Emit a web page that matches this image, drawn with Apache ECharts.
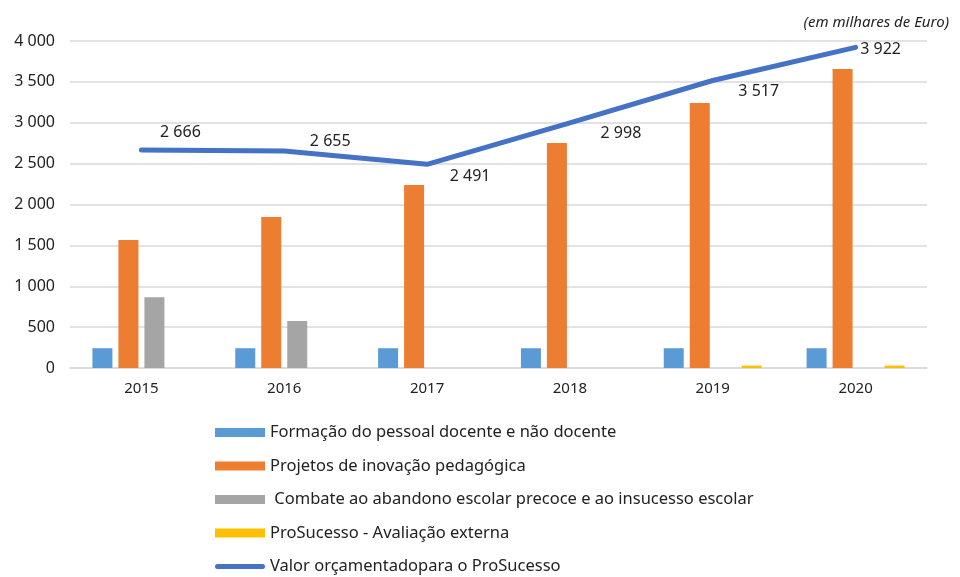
<!DOCTYPE html>
<html><head><meta charset="utf-8">
<script src="https://cdn.jsdelivr.net/npm/echarts@6/dist/echarts.min.js"></script>
<style>html,body{margin:0;padding:0;background:#fff}#c{width:960px;height:577px}</style>
</head><body><div id="c"></div>
<script>
const categories = ['2015','2016','2017','2018','2019','2020'];
const formacao = [242, 242, 242, 242, 242, 242];
const projetos = [1566, 1847, 2238, 2752, 3242, 3657];
const combate = [866, 575, 0, 0, 0, 0];
const avaliacao = [0, 0, 0, 0, 30, 30];
const valor = [2666, 2655, 2491, 2998, 3517, 3922];
const yTicks = [0, 500, 1000, 1500, 2000, 2500, 3000, 3500, 4000];
const labelOffsets = [[39,-5],[46,3],[43,25],[51,24],[46,24],[25,15]];

const font = 'Noto Sans';
const fmt = v => String(v).replace(/\B(?=(\d{3})+(?!\d))/g, ' ');

const chart = echarts.init(document.getElementById('c'));
const barBase = {type:'bar', barWidth:20, barGap:'30%'};
chart.setOption({
  animation:false,
  textStyle:{fontFamily:font},
  grid:{left:70, right:33, top:41, bottom:209},
  title:{text:'(em milhares de Euro)', right:6, top:10,
    textStyle:{fontFamily:font, fontSize:15, fontStyle:'italic', fontWeight:'normal', color:'#222'}},
  legend:{orient:'vertical', left:215, top:424, height:200, padding:0, itemWidth:50, itemHeight:9, itemGap:16.5,
    textStyle:{fontFamily:font, fontSize:16.5, color:'#222', lineHeight:17},
    data:[
      {name:'Formação do pessoal docente e não docente', icon:'rect'},
      {name:'Projetos de inovação pedagógica', icon:'rect'},
      {name:' Combate ao abandono escolar precoce e ao insucesso escolar', icon:'rect'},
      {name:'ProSucesso - Avaliação externa', icon:'rect'},
      {name:'Valor orçamentadopara o ProSucesso', icon:'path://M0,0 M2.5,2 L47.5,2 A2.5,2.5 0 0 1 47.5,7 L2.5,7 A2.5,2.5 0 0 1 2.5,2 Z M50,9'}
    ]},
  xAxis:{type:'category', data:categories,
    axisLine:{lineStyle:{color:'#d9d9d9', width:1.5}}, axisTick:{show:false},
    axisLabel:{color:'#222', fontSize:15, margin:13, fontFamily:font}},
  yAxis:{type:'value', min:0, max:4000, interval:500,
    axisLine:{show:false}, axisTick:{show:false},
    splitLine:{lineStyle:{color:'#d9d9d9', width:1.5}},
    axisLabel:{color:'#222', fontSize:16, margin:15, fontFamily:font,
      formatter:v => yTicks.includes(v) ? fmt(v) : ''}},
  series:[
    Object.assign({name:'Formação do pessoal docente e não docente', data:formacao, itemStyle:{color:'#5b9bd5'}}, barBase),
    Object.assign({name:'Projetos de inovação pedagógica', data:projetos, itemStyle:{color:'#ed7d31'}}, barBase),
    Object.assign({name:' Combate ao abandono escolar precoce e ao insucesso escolar', data:combate, itemStyle:{color:'#a5a5a5'}}, barBase),
    Object.assign({name:'ProSucesso - Avaliação externa', data:avaliacao, itemStyle:{color:'#ffc000'}}, barBase),
    {name:'Valor orçamentadopara o ProSucesso', type:'line', symbol:'circle', symbolSize:0, showSymbol:true,
      lineStyle:{color:'#4472c4', width:5, cap:'round', join:'round'},
      itemStyle:{color:'#4472c4'},
      data: valor.map((v,i)=>({value:v, label:{show:true, offset:labelOffsets[i]}})),
      label:{show:true, position:'top', distance:5, color:'#222', fontSize:16, fontFamily:font, formatter:p=>fmt(p.value)}}
  ]
});
</script></body></html>
